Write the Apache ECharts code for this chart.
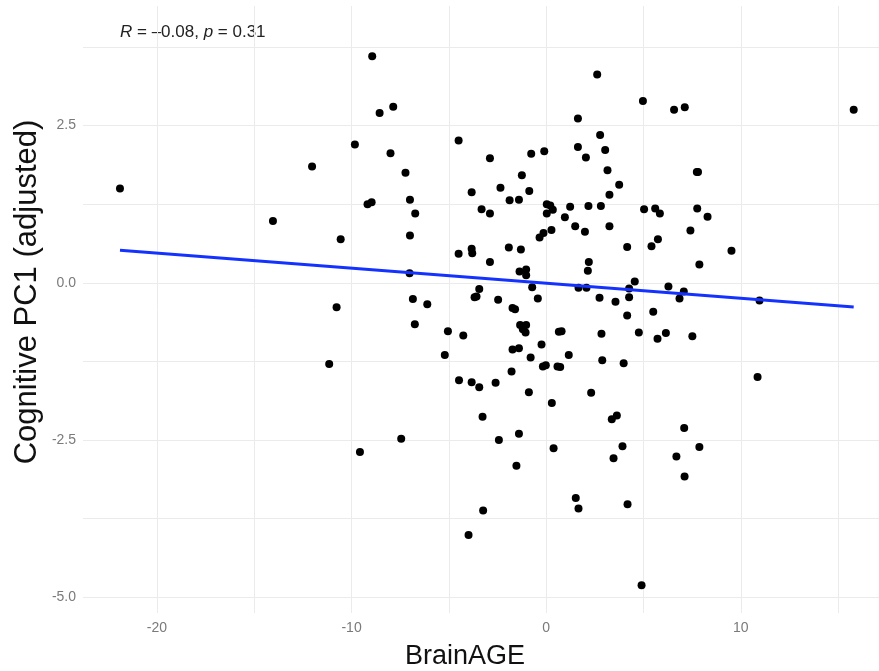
<!DOCTYPE html>
<html>
<head>
<meta charset="utf-8">
<script src="https://cdn.jsdelivr.net/npm/echarts/dist/echarts.min.js"></script>
<style>
  html, body { margin: 0; padding: 0; background: #fff; }
  #chart { width: 879px; height: 671px; }
</style>
</head>
<body>
<div id="chart"></div>
<script>
// values (BrainAGE vs cognitive PC1)
var brainAge = [
  -21.9, -14.04, -8.94, -8.56, -7.86, 1.63, -9.83, -8.00, -12.03, -4.50,
  -2.89, -0.77, -0.10, 1.63, -7.23, -1.25, -3.83, -2.35, -0.87, -9.18,
  -8.97, -7.00, -6.73, -1.88, -1.40, -3.32, -2.89, 0.03, 0.21, 0.34,
  0.03, 1.23, 0.96, 1.49, -10.56, -7.00, -0.34, -0.14, 0.27, 2.62,
  4.97, 6.57, 7.12, 15.8, 2.77, 3.03, 2.04, 3.15, 7.74, 7.80,
  3.75, 3.25, 2.17, 2.81, 5.03, 5.60, 5.84, 7.76, 8.29, 1.99,
  3.25, 7.41, 5.74, -4.50, -3.83, -3.80, -1.92, -1.30, -2.89, -7.02,
  -1.37, -1.03, -1.03, -0.72, 1.66, -3.44, -3.68, -3.58, -10.77, -6.85,
  -6.11, -2.47, -0.43, -1.73, -1.60, -6.75, -5.05, -4.26, -1.34, -1.03,
  -1.20, -1.06, 0.65, 0.79, -0.24, -1.73, -1.40, -5.21, 1.16, -0.80,
  -11.15, -0.17, -0.02, 0.58, 0.72, -1.78, -4.48, -3.83, -3.44, -2.60,
  -0.89, 0.29, -3.27, -1.40, -7.45, -2.43, -9.57, 0.38, -1.53, 4.16,
  5.41, 9.52, 2.19, 2.14, 7.87, 4.55, 2.07, 4.26, 4.26, 6.28,
  7.07, 6.85, 2.74, 3.56, 10.96, 4.16, 5.50, 2.84, 4.76, 6.15,
  5.72, 7.51, 2.88, 3.98, 10.86, 2.31, 3.37, 3.63, 7.09, 3.92,
  7.87, 3.46, 6.69, 7.11, 1.52, 1.66, -3.24, -3.99, 4.18, 4.90
];
var cogPC1 = [
  1.50, 0.98, 3.60, 2.70, 2.80, 2.61, 2.20, 2.06, 1.85, 2.26,
  1.98, 2.05, 2.09, 2.16, 1.75, 1.71, 1.44, 1.51, 1.46, 1.25,
  1.28, 1.32, 1.10, 1.31, 1.32, 1.17, 1.10, 1.25, 1.23, 1.16,
  1.10, 1.21, 1.04, 0.90, 0.69, 0.75, 0.72, 0.79, 0.84, 3.31,
  2.89, 2.75, 2.79, 2.75, 2.35, 2.11, 1.99, 1.79, 1.76, 1.76,
  1.56, 1.40, 1.22, 1.22, 1.17, 1.18, 1.10, 1.18, 1.05, 0.81,
  0.90, 0.83, 0.69, 0.46, 0.54, 0.47, 0.56, 0.53, 0.33, 0.15,
  0.18, 0.21, 0.12, -0.07, -0.08, -0.10, -0.23, -0.22, -0.39, -0.26,
  -0.34, -0.27, -0.25, -0.40, -0.42, -0.66, -0.77, -0.84, -0.67, -0.67,
  -0.74, -0.79, -0.78, -0.77, -0.98, -1.06, -1.04, -1.15, -1.15, -1.19,
  -1.29, -1.33, -1.31, -1.33, -1.34, -1.41, -1.55, -1.58, -1.66, -1.59,
  -1.74, -1.91, -2.13, -2.40, -2.48, -2.50, -2.69, -2.63, -2.91, 0.57,
  0.58, 0.51, 0.33, 0.19, 0.29, 0.02, -0.08, -0.09, -0.23, -0.06,
  -0.14, -0.25, -0.24, -0.30, -0.28, -0.52, -0.46, -0.81, -0.79, -0.80,
  -0.89, -0.85, -1.23, -1.28, -1.50, -1.75, -2.17, -2.11, -2.31, -2.60,
  -2.61, -2.79, -2.76, -3.08, -3.42, -3.59, -3.62, -4.01, -3.52, -4.81
];

// axis ticks (major labelled, plus minor grid lines)
var xLabels = [-20, -10, 0, 10];
var xGrid = [-20, -15, -10, -5, 0, 5, 10, 15];
var yLabels = [-5, -2.5, 0, 2.5];
var yGrid = [-5, -3.75, -2.5, -1.25, 0, 1.25, 2.5, 3.75];

var statR = "\u20130.08";
var statP = "0.31";

var font = "'Liberation Sans', Arial, Helvetica, sans-serif";

// least squares fit over the points, drawn from min x to max x
function fitLine(xs, ys) {
  var n = xs.length, mx = 0, my = 0;
  for (var i = 0; i < n; i++) { mx += xs[i]; my += ys[i]; }
  mx /= n; my /= n;
  var sxy = 0, sxx = 0;
  for (var j = 0; j < n; j++) {
    sxy += (xs[j] - mx) * (ys[j] - my);
    sxx += (xs[j] - mx) * (xs[j] - mx);
  }
  var b = sxy / sxx, a = my - b * mx;
  var lo = Math.min.apply(null, xs), hi = Math.max.apply(null, xs);
  return [[lo, a + b * lo], [hi, a + b * hi]];
}

var points = brainAge.map(function (v, i) { return [v, cogPC1[i]]; });

var myChart = echarts.init(document.getElementById("chart"));
myChart.setOption({
  animation: false,
  backgroundColor: "#fff",
  grid: { left: 83, right: 0, top: 6, bottom: 58, containLabel: false },
  xAxis: {
    type: "value",
    min: -23.8,
    max: 17.1,
    axisLine: { show: false },
    axisTick: { show: false, customValues: xGrid },
    axisLabel: {
      customValues: xLabels,
      color: "#7a7a7a",
      fontSize: 14,
      fontFamily: font,
      margin: 8
    },
    splitLine: { show: true, lineStyle: { color: "#ebebeb", width: 1 } }
  },
  yAxis: {
    type: "value",
    min: -5.25,
    max: 4.4,
    axisLine: { show: false },
    axisTick: { show: false, customValues: yGrid },
    axisLabel: {
      customValues: yLabels,
      color: "#7a7a7a",
      fontSize: 14,
      fontFamily: font,
      margin: 7,
      formatter: function (v) { return v.toFixed(1); }
    },
    splitLine: { show: true, lineStyle: { color: "#ebebeb", width: 1 } }
  },
  series: [
    {
      type: "scatter",
      data: points,
      symbolSize: 8,
      itemStyle: { color: "#000", opacity: 1 },
      z: 3
    },
    {
      type: "line",
      data: fitLine(brainAge, cogPC1),
      showSymbol: false,
      lineStyle: { color: "#1432ff", width: 3 },
      z: 4
    }
  ],
  graphic: [
    {
      type: "text",
      left: 120,
      top: 24,
      style: {
        text: "{i|R} = " + statR + ", {i|p} = " + statP,
        font: "17px " + font,
        fill: "#222",
        rich: { i: { fontStyle: "italic", fontSize: 17, fontFamily: font, fill: "#222" } }
      }
    },
    {
      type: "text",
      x: 465,
      y: 657,
      style: {
        text: "BrainAGE",
        font: "27px " + font,
        fill: "#111",
        align: "center",
        verticalAlign: "middle"
      }
    },
    {
      type: "text",
      x: 27,
      y: 292,
      rotation: Math.PI / 2,
      style: {
        text: "Cognitive PC1 (adjusted)",
        font: "31px " + font,
        fill: "#111",
        align: "center",
        verticalAlign: "middle"
      }
    }
  ]
});
</script>
</body>
</html>
